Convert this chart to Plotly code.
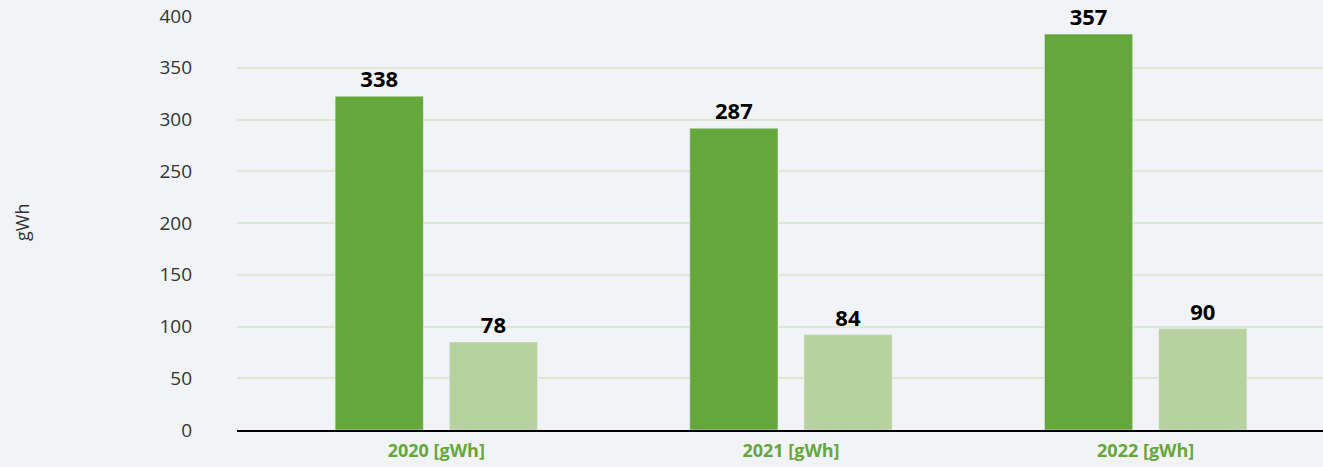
import plotly.graph_objects as go

categories = ["2020 [gWh]", "2021 [gWh]", "2022 [gWh]"]
# bar heights as drawn against the axis
series_a_heights = [322.5, 291.5, 382.5]
series_b_heights = [85, 92, 98]
# value labels printed above the bars
series_a_labels = ["338", "287", "357"]
series_b_labels = ["78", "84", "90"]
y_ticks = [0, 50, 100, 150, 200, 250, 300, 350, 400]

DARK = "#66A73C"
LIGHT = "#B8D29F"
BG = "#F2F3F7"
FONT = "Open Sans"

fig = go.Figure()
fig.add_trace(go.Bar(
    x=categories, y=series_a_heights, marker_color=DARK,
    text=series_a_labels, textposition="outside", cliponaxis=False,
    textfont=dict(family=FONT, size=22, color="#000000", weight="bold"),
    hoverinfo="skip",
))
fig.add_trace(go.Bar(
    x=categories, y=series_b_heights, marker_color=LIGHT,
    text=series_b_labels, textposition="outside", cliponaxis=False,
    textfont=dict(family=FONT, size=22, color="#000000", weight="bold"),
    hoverinfo="skip",
))

fig.update_layout(
    width=1323, height=467,
    margin=dict(l=237, r=0, t=16, b=37, autoexpand=False),
    paper_bgcolor=BG, plot_bgcolor=BG,
    barmode="group", bargap=0.356, bargroupgap=0.228,
    showlegend=False,
    font=dict(family=FONT),
    annotations=[dict(
        text="gWh", xref="paper", yref="paper", x=-(237 - 22) / 1086, y=0.5,
        xanchor="center", yanchor="middle", textangle=-90, showarrow=False,
        font=dict(family=FONT, size=18, color="#333333"),
    )],
)
fig.update_xaxes(
    type="category", range=[-0.562, 2.5],
    showgrid=False, showline=True, linecolor="#000000", linewidth=1.5,
    ticks="", tickfont=dict(family=FONT, size=18, color=DARK, weight="bold"),
    ticklabelstandoff=4, automargin=False,
)
fig.update_yaxes(
    range=[0, 400], tickvals=y_ticks,
    showgrid=True, gridcolor="#DDE8D3", gridwidth=1.5,
    zeroline=False, showline=False,
    tickfont=dict(family=FONT, size=19, color="#333333"),
    ticklabelstandoff=44, automargin=False,
)
fig.write_html(
    "out.html",
    config={"displayModeBar": False},
    post_script=(
        "document.body.style.margin='0';"
        "document.body.style.overflow='hidden';"
        "document.documentElement.style.overflow='hidden';"
        "document.body.style.background='#F2F3F7';"
    ),
)
